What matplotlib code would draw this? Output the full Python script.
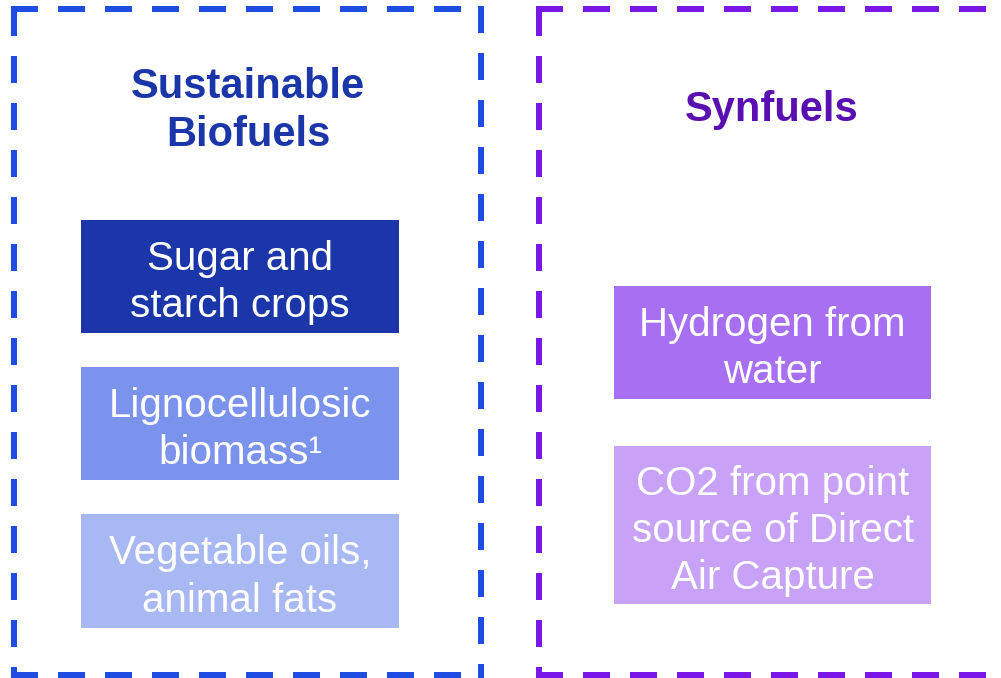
import matplotlib.pyplot as plt
from matplotlib.patches import Rectangle

plt.rcParams['font.family'] = ['Liberation Sans', 'DejaVu Sans']
plt.rcParams['lines.scale_dashes'] = False

# # Content
group_titles = ['Sustainable\nBiofuels', 'Synfuels']
biofuel_items = ['Sugar and\nstarch crops', 'Lignocellulosic\nbiomass\u00b9', 'Vegetable oils,\nanimal fats']
synfuel_items = ['Hydrogen from\nwater', 'CO2 from point\nsource of Direct\nAir Capture']

# # Styles
frame_colors = ['#1f4de2', '#7817e8']
title_colors = ['#1a36a8', '#5a0fb0']
biofuel_colors = ['#1a36a8', '#7b93ec', '#a8b8f2']
synfuel_colors = ['#a770f2', '#c8a2f6']

# # Layout (pixels, origin top left)
W, H = 1001, 678
frames = [(14, 9, 481, 675), (539, 9, 1015, 675)]   # left, top, right, bottom
title_pos = [(248, 111), (772, 110)]
biofuel_boxes = [(81, 220, 318, 113), (81, 367, 318, 113), (81, 514, 318, 114)]
synfuel_boxes = [(614, 286, 317, 113), (614, 446, 317, 158)]

fig = plt.figure(figsize=(W / 100, H / 100), dpi=100)
ax = fig.add_axes([0, 0, 1, 1])
ax.set_xlim(0, W)
ax.set_ylim(H, 0)
ax.axis('off')

lw = 6 * 72 / 100
dash = (0, (27 * 0.72, 20 * 0.72))

def dashed_side(x0, y0, x1, y1, color):
	ax.plot([x0, x1], [y0, y1], color=color, lw=lw, linestyle=dash,
		dash_capstyle='butt', solid_capstyle='butt')

for (l, t, r, b), col in zip(frames, frame_colors):
	dashed_side(l - 3, t, r + 3, t, col)   # top
	dashed_side(l, t, l, b + 3, col)       # left
	dashed_side(r, t - 3, r, b + 3, col)   # right
	dashed_side(l - 3, b, r + 3, b, col)   # bottom

for text, (x, y), col in zip(group_titles, title_pos, title_colors):
	ax.text(x, y, text, ha='center', va='center', fontsize=30, fontweight='bold',
		color=col, linespacing=1.28)

def draw_boxes(labels, boxes, colors):
	for label, (x, y, w, h), col in zip(labels, boxes, colors):
		ax.add_patch(Rectangle((x, y), w, h, facecolor=col, edgecolor='none'))
		ax.text(x + w / 2, y + h / 2 + 6, label, ha='center', va='center',
			fontsize=29, color='white', linespacing=1.3)

draw_boxes(biofuel_items, biofuel_boxes, biofuel_colors)
draw_boxes(synfuel_items, synfuel_boxes, synfuel_colors)

fig.savefig('out.png', dpi=100)
